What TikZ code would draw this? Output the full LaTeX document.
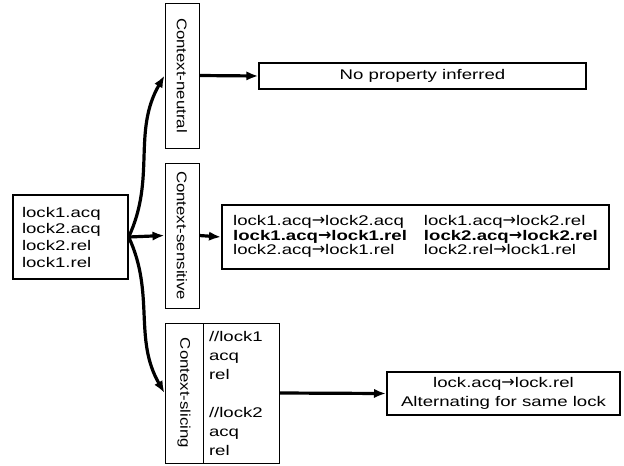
\documentclass[tikz,border=0pt]{standalone}
\usepackage{fontspec}
\usepackage{graphicx}
\setmainfont{Liberation Sans}[FakeStretch=1.33]
\newfontfamily\sidefont{Liberation Sans}[FakeStretch=1.2]
\newfontfamily\arrfont{DejaVu Sans}
\newcommand\lkarr{{\arrfont\fontsize{12}{10}\selectfont →}}
\usetikzlibrary{arrows.meta}

\begin{document}
\begin{tikzpicture}[x=0.75pt,y=0.75pt,yscale=-1,xscale=1,
  font=\fontsize{10.5}{12.5}\selectfont,
  box/.style={draw, line width=1pt, inner sep=0pt},
  sidebox/.style={draw, line width=0.75pt, inner sep=0pt, font=\sidefont\fontsize{10.5}{12}\selectfont},
  resbox/.style={draw, line width=1.5pt, inner sep=0pt},
  flow/.style={line width=2.4pt, -{Latex[length=9pt,width=7pt]}}]
%set diagram left start at 0, and has height of 465
\useasboundingbox (0,0) rectangle (624,465);

%Shape: Rectangle, trace
\node (src) at (70.5,237) [box, minimum height=63pt, inner xsep=6.75pt, text width=72.75pt, align=left] {lock1.acq\\lock2.acq\\lock2.rel\\lock1.rel};

%Shape: Rectangle, the three contexts
\node (ctxn) at (182,75.5) [sidebox, minimum width=25.5pt, minimum height=108.75pt] {\rotatebox{-90}{Context-neutral}};
\node (ctxs) at (182,235.5) [sidebox, minimum width=25.5pt, minimum height=108.75pt] {\rotatebox{-90}{Context-sensitive}};
\node (ctxl) at (184,393) [sidebox, minimum width=28.5pt, minimum height=105pt] {\rotatebox{-90}{Context-slicing}};
\node (ctxlcode) at (241,393) [sidebox, font=\fontsize{10.5}{14.25}\selectfont, minimum height=105pt, inner xsep=4.5pt, text width=48pt, align=left] {//lock1\\acq\\rel\\[14.25pt]//lock2\\acq\\rel};

%Shape: Rectangle, results
\node (none) at (422.5,76) [box, minimum width=245.25pt, minimum height=19.5pt] {No property inferred};
\node (sres) at (415.5,237) [resbox, minimum width=290.25pt, minimum height=48pt, font=\fontsize{10.5}{10}\selectfont] {%
  \begin{tabular}{@{}l@{\hspace{12.75pt}}l@{}}
  lock1.acq\lkarr lock2.acq & lock1.acq\lkarr lock2.rel\\
  \textbf{lock1.acq\lkarr lock1.rel} & \textbf{lock2.acq\lkarr lock2.rel}\\
  lock2.acq\lkarr lock1.rel & lock2.rel\lkarr lock1.rel
  \end{tabular}};
\node (lres) at (503.5,393.5) [resbox, minimum width=174.75pt, minimum height=32.25pt, align=center, font=\fontsize{10.5}{14.25}\selectfont] {lock.acq\lkarr lock.rel\\Alternating for same lock};

%Straight Lines and curves
\draw [flow] (src.east) to [out=-65,in=120] (ctxn.west);
\draw [flow] (src.east) -- (ctxs.west);
\draw [flow] (src.east) to [out=65,in=-120] (ctxl.west);

\draw [flow] (ctxn.east) -- (none.west);
\draw [flow] (ctxs.east) -- (sres.west);
\draw [flow] (ctxlcode.east) -- (lres.west);

\end{tikzpicture}
\end{document}
